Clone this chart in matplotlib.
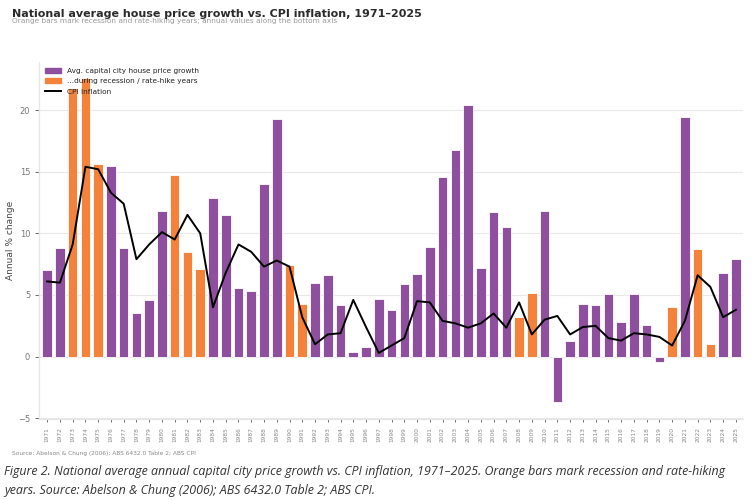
import matplotlib
matplotlib.use('Agg')
from matplotlib import pyplot as plt
from matplotlib.patches import Patch
from matplotlib.lines import Line2D
import numpy as np

years = list(range(1971, 2026))

house_growth = [7.0, 8.8, 21.8, 22.6, 15.6, 15.5, 8.8, 3.5, 4.6, 11.8,
                14.7, 8.5, 7.1, 12.9, 11.5, 5.6, 5.3, 14.0, 19.3, 7.4,
                4.3, 6.0, 6.6, 4.2, 0.4, 0.8, 4.7, 3.8, 5.9, 6.7,
                8.9, 14.6, 16.8, 20.4, 7.2, 11.7, 10.5, 3.2, 5.2, 11.8,
                -3.7, 1.3, 4.3, 4.2, 5.1, 2.8, 5.1, 2.6, -0.4, 4.0,
                19.4, 8.7, 1.0, 6.8, 7.9]

cpi = [6.1, 6.0, 9.1, 15.4, 15.2, 13.3, 12.4, 7.9, 9.1, 10.1,
       9.5, 11.5, 10.0, 4.0, 6.8, 9.1, 8.5, 7.3, 7.8, 7.3,
       3.2, 1.0, 1.8, 1.9, 4.6, 2.4, 0.3, 0.9, 1.5, 4.5,
       4.4, 2.9, 2.7, 2.35, 2.7, 3.5, 2.35, 4.4, 1.8, 3.0,
       3.3, 1.8, 2.4, 2.5, 1.5, 1.3, 1.9, 1.8, 1.6, 0.9,
       2.9, 6.6, 5.65, 3.2, 3.8]

recession_years = [1973, 1974, 1975, 1981, 1982, 1983, 1990, 1991,
                   2008, 2009, 2020, 2022, 2023]

PURPLE = '#8E4F9E'
ORANGE = '#F5823B'

fig = plt.figure(figsize=(7.55, 5.0), dpi=100)
ax = fig.add_axes([0.052, 0.162, 0.932, 0.714])

x = np.arange(len(years))
colors = [ORANGE if y in recession_years else PURPLE for y in years]
ax.bar(x, house_growth, width=0.75, color=colors, edgecolor='white', linewidth=0.6, zorder=2)
ax.plot(x, cpi, color='black', linewidth=1.4, zorder=3)

ax.set_xlim(-0.62, len(years) - 0.45)
ax.set_ylim(-5.06, 23.9)
ax.set_yticks([-5, 0, 5, 10, 15, 20])
ax.set_xticks(x)
ax.set_xticklabels([str(y) for y in years], rotation=90, fontsize=4.2, color='#888888')
ax.tick_params(axis='y', labelsize=6, colors='#333333', labelcolor='#777777', length=3, width=0.5)
ax.tick_params(axis='x', colors='#333333', labelcolor='#888888', length=2.5, width=0.5)
ax.grid(axis='y', color='#e8e8e8', linewidth=0.8, zorder=0)
ax.set_axisbelow(True)
for side in ['top', 'right']:
    ax.spines[side].set_visible(False)
for side in ['left', 'bottom']:
    ax.spines[side].set_color('#e6e6e6')
    ax.spines[side].set_linewidth(0.9)

ax.set_ylabel('Annual % change', fontsize=6.5, color='#444444')
ax.yaxis.set_label_coords(-0.034, 0.5)

handles = [Patch(color=PURPLE, label='Avg. capital city house price growth'),
           Patch(color=ORANGE, label='...during recession / rate-hike years'),
           Line2D([0], [0], color='black', linewidth=1.4, label='CPI inflation')]
leg = ax.legend(handles=handles, loc='upper left', fontsize=5.35, frameon=False,
                handlelength=2.1, handleheight=0.6,
                borderaxespad=0.4, labelspacing=0.58, bbox_to_anchor=(0.0, 1.0))
leg.set_zorder(5)
for t in leg.get_texts():
    t.set_color('#222222')

fig.text(0.016, 0.972, 'National average house price growth vs. CPI inflation, 1971\u20132025',
         fontsize=8.0, fontweight='bold', color='#2b2b2b', va='center')
fig.text(0.016, 0.957, 'Orange bars mark recession and rate-hiking years; annual values along the bottom axis',
         fontsize=5.3, color='#999999', va='center')

fig.text(0.016, 0.094, 'Source: Abelson & Chung (2006); ABS 6432.0 Table 2; ABS CPI',
         fontsize=4.2, color='#888888', va='center')

cap_font = ['Open Sans', 'DejaVu Sans']
fig.text(0.005, 0.056, 'Figure 2. National average annual capital city price growth vs. CPI inflation, 1971\u20132025. Orange bars mark recession and rate-hiking',
         fontsize=8.95, style='italic', color='#333333', va='center', family=cap_font)
fig.text(0.005, 0.019, 'years. Source: Abelson & Chung (2006); ABS 6432.0 Table 2; ABS CPI.',
         fontsize=8.95, style='italic', color='#333333', va='center', family=cap_font)

plt.savefig('out.png', dpi=100)
